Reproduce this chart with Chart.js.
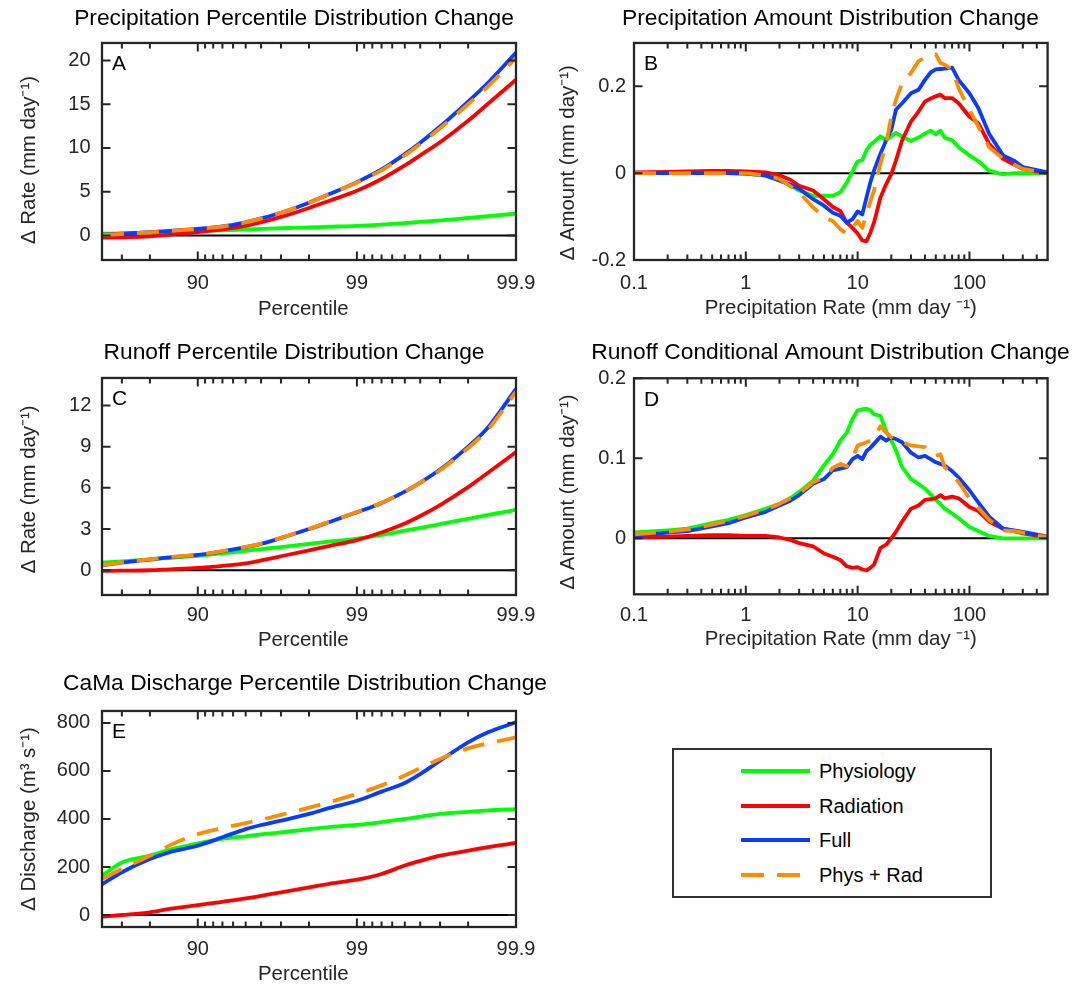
<!DOCTYPE html>
<html>
<head>
<meta charset="utf-8">
<title>Distribution Change</title>
<script src="https://cdn.jsdelivr.net/npm/chart.js@4.4.1/dist/chart.umd.min.js"></script>
<style>
  html, body { margin:0; padding:0; background:#fff; }
  #fig { position:relative; width:1089px; height:984px; overflow:hidden; background:#fff; }
  #fig canvas { position:absolute; }
  #legend { position:absolute; left:672px; top:748px; width:320px; height:150px; box-sizing:border-box;
            border:2.3px solid #333; background:#fff;
            font-family:'Liberation Sans', Arial, Helvetica, sans-serif; font-size:20px; color:#000; }
  #legend .row { position:absolute; left:0; width:100%; height:24px; }
  #legend .row svg { position:absolute; left:67px; top:9px; }
  #legend .row span { position:absolute; left:145px; top:0; line-height:24px; white-space:nowrap; }
</style>
</head>
<body>
<div id="fig"><div id="legend"></div></div>
<script>
// ---------------- data ----------------
const SERIES = ['Physiology', 'Radiation', 'Full', 'Phys + Rad'];

// percentile axis (panels A, C, E)
const PCTL = [60, 70, 80, 85, 90, 93, 95, 96, 97, 98, 98.5, 99, 99.3, 99.5, 99.6, 99.7, 99.8, 99.85, 99.9];
const PCTL_TICKS = [90, 99, 99.9];
const PCTL_TICK_LABELS = ['90', '99', '99.9'];
const PCTL_MINOR = [70, 80, 91, 92, 93, 94, 95, 96, 97, 98, 99.1, 99.2, 99.3, 99.4, 99.5, 99.6, 99.7, 99.8];

// precipitation-rate axis (panels B, D), mm/day
const RATE = [0.1, 0.2, 0.3, 0.5, 0.7, 1, 1.5, 2, 2.5, 3, 4, 5, 6, 7, 8, 9, 10, 11, 12, 13, 14, 16, 18, 20, 22, 25, 30, 35, 40, 45, 50, 55, 60, 70, 80, 100, 120, 150, 200, 250, 300, 500];
const RATE_TICKS = [0.1, 1, 10, 100];
const RATE_TICK_LABELS = ['0.1', '1', '10', '100'];
const RATE_MINOR = [0.2, 0.3, 0.4, 0.5, 0.6, 0.7, 0.8, 0.9, 2, 3, 4, 5, 6, 7, 8, 9, 20, 30, 40, 50, 60, 70, 80, 90, 200, 300, 400];

// Panel A: precipitation percentile change (mm/day)
const A_PHYS = [0.2, 0.25, 0.32, 0.39, 0.5, 0.6, 0.69, 0.75, 0.83, 0.93, 1.0, 1.1, 1.25, 1.42, 1.55, 1.72, 2.0, 2.2, 2.5];
const A_RAD  = [-0.25, -0.2, -0.1, 0.1, 0.4, 0.7, 1.1, 1.52, 2.12, 3.15, 3.95, 5.1, 6.45, 8.0, 9.15, 10.65, 13.1, 15.05, 17.8];
const A_FULL = [0.1, 0.2, 0.38, 0.53, 0.76, 1.03, 1.5, 1.95, 2.6, 3.75, 4.7, 6.1, 7.55, 9.3, 10.6, 12.45, 15.3, 17.45, 20.9];
const A_SUM  = [0.05, 0.17, 0.36, 0.52, 0.75, 1.02, 1.5, 1.95, 2.6, 3.75, 4.7, 6.05, 7.45, 9.15, 10.45, 12.25, 15.0, 17.05, 20.3];
const A_YTICKS = [0, 5, 10, 15, 20];
const A_YLABELS = ['0', '5', '10', '15', '20'];

// Panel B: precipitation amount distribution change (mm/day)
const B_PHYS = [0, 0, 0, 0, 0, -0.001, -0.006, -0.017, -0.028, -0.04, -0.052, -0.052, -0.052, -0.044, -0.022, 0.005, 0.027, 0.03, 0.053, 0.065, 0.072, 0.085, 0.076, 0.085, 0.093, 0.084, 0.074, 0.082, 0.091, 0.098, 0.09, 0.098, 0.082, 0.076, 0.06, 0.041, 0.028, 0.006, -0.003, 0, 0, 0];
const B_RAD  = [0.002, 0.003, 0.004, 0.005, 0.005, 0.004, 0.002, -0.005, -0.015, -0.029, -0.04, -0.06, -0.078, -0.087, -0.114, -0.126, -0.139, -0.155, -0.157, -0.137, -0.114, -0.056, -0.025, -0.002, 0.029, 0.076, 0.119, 0.142, 0.165, 0.172, 0.177, 0.181, 0.173, 0.173, 0.161, 0.13, 0.115, 0.068, 0.033, 0.02, 0.01, 0];
const B_FULL = [0, 0, 0, 0, 0, -0.001, -0.005, -0.017, -0.026, -0.036, -0.06, -0.075, -0.091, -0.098, -0.114, -0.106, -0.088, -0.095, -0.056, -0.021, 0.006, 0.045, 0.076, 0.1, 0.146, 0.161, 0.184, 0.192, 0.215, 0.232, 0.239, 0.24, 0.241, 0.243, 0.215, 0.184, 0.15, 0.091, 0.041, 0.029, 0.014, 0.002];
const B_SUM  = [0, 0, 0, 0, 0, 0, -0.005, -0.013, -0.03, -0.044, -0.079, -0.102, -0.11, -0.129, -0.14, -0.126, -0.11, -0.126, -0.095, -0.065, -0.04, 0.022, 0.068, 0.13, 0.169, 0.208, 0.231, 0.258, 0.266, 0.27, 0.274, 0.254, 0.25, 0.239, 0.196, 0.146, 0.107, 0.06, 0.033, 0.02, 0.01, 0];
const B_YTICKS = [-0.2, 0, 0.2];
const B_YLABELS = ['-0.2', '0', '0.2'];

// Panel C: runoff percentile change (mm/day)
const C_PHYS = [0.55, 0.65, 0.8, 0.91, 1.05, 1.24, 1.42, 1.54, 1.69, 1.92, 2.08, 2.3, 2.58, 2.88, 3.08, 3.36, 3.75, 4.03, 4.4];
const C_RAD  = [-0.05, -0.03, 0, 0.07, 0.17, 0.32, 0.5, 0.72, 1.02, 1.45, 1.76, 2.2, 2.75, 3.4, 3.95, 4.75, 6.05, 7.1, 8.6];
const C_FULL = [0.36, 0.55, 0.78, 0.94, 1.12, 1.38, 1.68, 1.92, 2.35, 3.0, 3.5, 4.22, 4.9, 5.72, 6.38, 7.33, 9.0, 10.4, 13.2];
const C_SUM  = [0.38, 0.57, 0.8, 0.96, 1.14, 1.4, 1.7, 1.94, 2.37, 3.02, 3.52, 4.24, 4.92, 5.72, 6.36, 7.28, 8.9, 10.25, 13.0];
const C_YTICKS = [0, 3, 6, 9, 12];
const C_YLABELS = ['0', '3', '6', '9', '12'];

// Panel D: runoff conditional amount distribution change (mm/day)
const D_PHYS = [0.0074, 0.01, 0.012, 0.019, 0.023, 0.029, 0.037, 0.043, 0.05, 0.058, 0.072, 0.091, 0.105, 0.122, 0.132, 0.149, 0.16, 0.161, 0.162, 0.16, 0.155, 0.153, 0.134, 0.122, 0.11, 0.089, 0.074, 0.068, 0.062, 0.055, 0.048, 0.043, 0.037, 0.031, 0.025, 0.014, 0.009, 0.003, 0, 0, 0, 0];
const D_RAD  = [0.001, 0.002, 0.003, 0.004, 0.004, 0.003, 0.003, 0.001, -0.002, -0.006, -0.01, -0.019, -0.023, -0.027, -0.035, -0.037, -0.036, -0.039, -0.04, -0.037, -0.033, -0.012, -0.008, 0, 0.008, 0.021, 0.037, 0.041, 0.048, 0.049, 0.05, 0.054, 0.05, 0.052, 0.05, 0.039, 0.034, 0.021, 0.012, 0.009, 0.006, 0.001];
const D_FULL = [0.003, 0.007, 0.009, 0.015, 0.019, 0.026, 0.033, 0.041, 0.047, 0.054, 0.068, 0.074, 0.085, 0.087, 0.089, 0.099, 0.103, 0.099, 0.109, 0.113, 0.118, 0.127, 0.122, 0.126, 0.124, 0.12, 0.107, 0.101, 0.103, 0.099, 0.095, 0.093, 0.091, 0.084, 0.076, 0.06, 0.045, 0.027, 0.012, 0.01, 0.008, 0.002];
const D_SUM  = [0.005, 0.008, 0.011, 0.017, 0.022, 0.028, 0.036, 0.043, 0.05, 0.056, 0.07, 0.076, 0.088, 0.093, 0.09, 0.1, 0.116, 0.118, 0.12, 0.122, 0.126, 0.14, 0.132, 0.126, 0.123, 0.12, 0.116, 0.115, 0.114, 0.108, 0.103, 0.105, 0.089, 0.08, 0.07, 0.05, 0.038, 0.023, 0.01, 0.009, 0.007, 0.001];
const D_YTICKS = [0, 0.1, 0.2];
const D_YLABELS = ['0', '0.1', '0.2'];

// Panel E: CaMa discharge percentile change (m3/s)
const E_PHYS = [164, 219, 247, 272, 298, 317, 328, 336, 344, 358, 366, 375, 387, 400, 410, 421, 430, 436, 441];
const E_RAD  = [-7, 0, 11, 25, 41, 55, 69, 80, 94, 115, 130, 147, 171, 206, 225, 247, 268, 283, 300];
const E_FULL = [128, 178, 233, 262, 289, 324, 358, 375, 393, 421, 445, 476, 514, 550, 587, 643, 719, 761, 803];
const E_SUM  = [150, 192, 247, 290, 337, 362, 383, 397, 417, 447, 470, 504, 540, 581, 612, 650, 694, 715, 740];
const E_YTICKS = [0, 200, 400, 600, 800];
const E_YLABELS = ['0', '200', '400', '600', '800'];

// ---------------- styles ----------------
const FONT = "'Liberation Sans', Arial, Helvetica, sans-serif";
const STYLE = {
  color: ['#00ff00', '#ff0000', '#0a3cff', '#ff8c00'],
  dash: [[], [], [], [22, 13]],
  width: 3.8
};
Chart.defaults.font.family = FONT;

// percentile -> exceedance (100 - p), plotted on a reversed log axis
const exceed = p => +(100 - p).toFixed(4);

const framePlugin = {
  id: 'frame',
  beforeDatasetsDraw(chart) {
    const { ctx, chartArea: a } = chart;
    const y0 = chart.scales.y.getPixelForValue(0);
    ctx.save();
    ctx.strokeStyle = '#000';
    ctx.lineWidth = 2;
    ctx.beginPath();
    ctx.moveTo(a.left, y0);
    ctx.lineTo(a.right, y0);
    ctx.stroke();
    ctx.restore();
  },
  afterDatasetsDraw(chart, args, o) {
    const { ctx, chartArea: a } = chart;
    const x = chart.scales.x, y = chart.scales.y;
    const L = a.left, R = a.right, T = a.top, B = a.bottom;
    ctx.save();
    ctx.strokeStyle = '#262626';
    ctx.lineWidth = 2;
    ctx.beginPath();
    const xt = (v, len) => {
      const px = x.getPixelForValue(v);
      ctx.moveTo(px, B); ctx.lineTo(px, B - len);
      ctx.moveTo(px, T); ctx.lineTo(px, T + len);
    };
    o.xMajor.forEach(v => xt(v, 8.5));
    o.xMinor.forEach(v => xt(v, 5.5));
    o.yMajor.forEach(v => {
      const py = y.getPixelForValue(v);
      ctx.moveTo(L, py); ctx.lineTo(L + 8.5, py);
      ctx.moveTo(R, py); ctx.lineTo(R - 8.5, py);
    });
    ctx.stroke();
    ctx.lineWidth = 2.3;
    ctx.strokeRect(L, T, R - L, B - T);
    ctx.fillStyle = '#000';
    ctx.font = '21px ' + FONT;
    ctx.textBaseline = 'alphabetic';
    ctx.textAlign = 'left';
    ctx.fillText(o.letter, L + 10, T + 27.5);
    ctx.restore();
  }
};

const PANELS = [
  { letter: 'A', left: 0, top: 0, width: 588, height: 330, rightGap: 72, yW: 102, xH: 70,
    title: 'Precipitation Percentile Distribution Change', titlePad: { top: 5.5, bottom: 10.1 },
    kind: 'pct', series: [A_PHYS, A_RAD, A_FULL, A_SUM], yMin: -2.8, yMax: 22, yTicks: A_YTICKS, yLabels: A_YLABELS,
    yTitle: 'Δ Rate (mm day⁻¹)   ', yTitlePad: 17, yTickPad: 11.5, xTickPad: 11, xTitle: 'Percentile  ', xTitlePad: 8.7 },
  { letter: 'B', left: 550, top: 0, width: 561.4, height: 330, rightGap: 63.4, yW: 84, xH: 70,
    title: 'Precipitation Amount Distribution Change', titlePad: { top: 5.5, bottom: 10.1 },
    kind: 'rate', series: [B_PHYS, B_RAD, B_FULL, B_SUM], yMin: -0.2, yMax: 0.3, yTicks: B_YTICKS, yLabels: B_YLABELS,
    yTitle: 'Δ Amount (mm day⁻¹)    ', yTitlePad: 6.4, yTickPad: 8, xTickPad: 11.3, xTitle: 'Precipitation Rate (mm day ⁻¹)', xTitlePad: 8.9 },
  { letter: 'C', left: 0, top: 330, width: 588, height: 330, rightGap: 72, yW: 102, xH: 65,
    title: 'Runoff Percentile Distribution Change', titlePad: { top: 8.8, bottom: 11.8 },
    kind: 'pct', series: [C_PHYS, C_RAD, C_FULL, C_SUM], yMin: -1.8, yMax: 14, yTicks: C_YTICKS, yLabels: C_YLABELS,
    yTitle: 'Δ Rate (mm day⁻¹) ', yTitlePad: 17, yTickPad: 10.7, xTickPad: 8, xTitle: 'Percentile  ', xTitlePad: 7.7 },
  { letter: 'D', left: 550, top: 330, width: 561.4, height: 330, rightGap: 63.4, yW: 84, xH: 65.7,
    title: 'Runoff Conditional Amount Distribution Change', titlePad: { top: 8.8, bottom: 12.1 },
    kind: 'rate', series: [D_PHYS, D_RAD, D_FULL, D_SUM], yMin: -0.07, yMax: 0.2, yTicks: D_YTICKS, yLabels: D_YLABELS,
    yTitle: 'Δ Amount (mm day⁻¹)  ', yTitlePad: 6.6, yTickPad: 8, xTickPad: 8.7, xTitle: 'Precipitation Rate (mm day ⁻¹)', xTitlePad: 8.7 },
  { letter: 'E', left: 0, top: 660, width: 610, height: 340, rightGap: 94, yW: 102, xH: 73,
    title: 'CaMa Discharge Percentile Distribution Change', titlePad: { top: 10.5, bottom: 13.1 },
    kind: 'pct', series: [E_PHYS, E_RAD, E_FULL, E_SUM], yMin: -50, yMax: 850, yTicks: E_YTICKS, yLabels: E_YLABELS,
    yTitle: 'Δ Discharge (m³ s⁻¹)', yTitlePad: 17, yTickPad: 11.8, xTickPad: 10, xTitle: 'Percentile  ', xTitlePad: 13.7 }
];

const fig = document.getElementById('fig');

PANELS.forEach(p => {
  const cv = document.createElement('canvas');
  cv.width = Math.round(p.width);
  cv.height = p.height;
  cv.style.left = p.left + 'px';
  cv.style.top = p.top + 'px';
  cv.style.width = Math.round(p.width) + 'px';
  cv.style.height = p.height + 'px';
  fig.insertBefore(cv, document.getElementById('legend'));

  const isPct = p.kind === 'pct';
  const xs = isPct ? PCTL.map(exceed) : RATE;
  const xMajor = isPct ? PCTL_TICKS.map(exceed) : RATE_TICKS;
  const xLabels = isPct ? PCTL_TICK_LABELS : RATE_TICK_LABELS;
  const xMinor = isPct ? PCTL_MINOR.map(exceed) : RATE_MINOR;

  const datasets = p.series.map((vals, i) => ({
    label: SERIES[i],
    data: xs.map((xv, j) => ({ x: xv, y: vals[j] })),
    borderColor: STYLE.color[i],
    borderWidth: STYLE.width,
    borderDash: STYLE.dash[i],
    borderCapStyle: 'butt',
    borderJoinStyle: 'round',
    pointRadius: 0,
    fill: false,
    tension: 0,
    cubicInterpolationMode: isPct ? 'monotone' : 'default',
    order: SERIES.length - i
  }));

  new Chart(cv, {
    type: 'line',
    data: { datasets },
    plugins: [framePlugin],
    options: {
      responsive: false,
      animation: false,
      devicePixelRatio: 1,
      events: [],
      layout: { padding: 0 },
      scales: {
        x: {
          type: 'logarithmic', position: 'bottom', bounds: 'data',
          min: 0.1, max: isPct ? 40 : 500, reverse: isPct,
          afterBuildTicks: s => { s.ticks = xMajor.map(v => ({ value: v })); },
          afterFit: s => { s.height = p.xH; },
          ticks: { autoSkip: false, maxRotation: 0, minRotation: 0, padding: p.xTickPad,
                   color: '#262626', font: { size: 20 }, callback: (v, i) => xLabels[i] },
          grid: { display: false, drawTicks: false },
          border: { display: false },
          title: { display: true, text: p.xTitle, color: '#262626', font: { size: 20.4 },
                   padding: { top: 0, bottom: p.xTitlePad } }
        },
        y: {
          type: 'linear', position: 'left', bounds: 'data', min: p.yMin, max: p.yMax,
          afterBuildTicks: s => { s.ticks = p.yTicks.map(v => ({ value: v })); },
          afterFit: s => { s.width = p.yW; },
          ticks: { padding: p.yTickPad, color: '#262626', font: { size: 20 }, callback: (v, i) => p.yLabels[i] },
          grid: { display: false, drawTicks: false },
          border: { display: false },
          title: { display: true, text: p.yTitle, color: '#262626', font: { size: 20.4 },
                   padding: { top: p.yTitlePad, bottom: 0 } }
        },
        gap: {
          type: 'linear', position: 'right', display: true,
          afterFit: s => { s.width = p.rightGap; },
          ticks: { display: false }, grid: { display: false, drawTicks: false }, border: { display: false }
        }
      },
      plugins: {
        legend: { display: false },
        tooltip: { enabled: false },
        title: { display: true, text: p.title, color: '#000', font: { size: 22.8, weight: 'normal' },
                 padding: p.titlePad },
        frame: { letter: p.letter, xMajor, xMinor, yMajor: p.yTicks }
      }
    }
  });
});

// ---------------- legend ----------------
const legend = document.getElementById('legend');
SERIES.forEach((name, i) => {
  const row = document.createElement('div');
  row.className = 'row';
  row.style.top = (9.4 + 34.4 * i) + 'px';
  const dash = STYLE.dash[i].length ? ' stroke-dasharray="23 13"' : '';
  row.innerHTML = '<svg width="70" height="6"><line x1="0" y1="3" x2="69" y2="3" stroke="' + STYLE.color[i] +
                  '" stroke-width="4.2"' + dash + '/></svg><span>' + name + '</span>';
  legend.appendChild(row);
});
</script>
</body>
</html>
